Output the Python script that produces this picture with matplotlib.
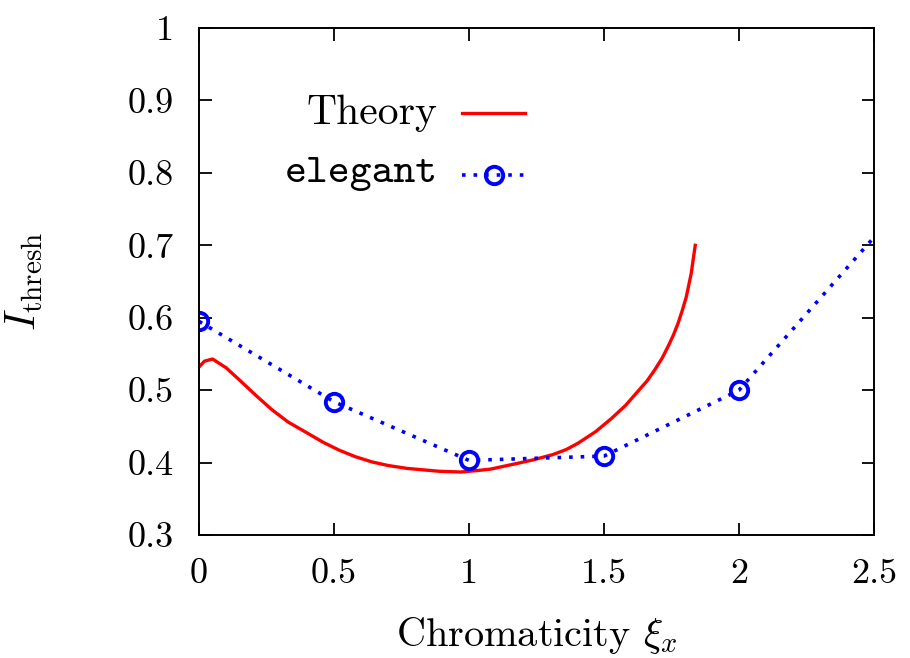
import numpy as np
import matplotlib.pyplot as plt
from matplotlib.lines import Line2D

plt.rcParams['font.family'] = 'cmr10'
plt.rcParams['mathtext.fontset'] = 'cm'
plt.rcParams['axes.formatter.use_mathtext'] = True

# theory curve
theory_x = [0.00, 0.02, 0.05, 0.10, 0.15, 0.21, 0.27, 0.33, 0.40, 0.46, 0.52, 0.58,
            0.64, 0.70, 0.77, 0.83, 0.89, 0.97, 1.03, 1.08, 1.13, 1.18, 1.24, 1.31,
            1.36, 1.405, 1.47, 1.528, 1.58, 1.62, 1.66, 1.688, 1.715, 1.737, 1.757,
            1.774, 1.79, 1.805, 1.823, 1.838]
theory_y = [0.532, 0.540, 0.543, 0.531, 0.514, 0.493, 0.473, 0.456, 0.441, 0.428, 0.417, 0.408,
            0.401, 0.396, 0.392, 0.390, 0.388, 0.387, 0.389, 0.391, 0.395, 0.399, 0.404, 0.411,
            0.418, 0.427, 0.443, 0.461, 0.479, 0.496, 0.513, 0.528, 0.544, 0.560, 0.576,
            0.592, 0.610, 0.629, 0.661, 0.700]

# elegant simulation points
eleg_x = [0.0, 0.5, 1.0, 1.5, 2.0, 3.0]
eleg_y = [0.595, 0.484, 0.403, 0.409, 0.500, 0.922]

xticks = [0, 0.5, 1, 1.5, 2, 2.5]
xticklabels = ['0', '0.5', '1', '1.5', '2', '2.5']
yticks = [0.3, 0.4, 0.5, 0.6, 0.7, 0.8, 0.9, 1.0]
yticklabels = ['0.3', '0.4', '0.5', '0.6', '0.7', '0.8', '0.9', '1']

fig = plt.figure(figsize=(9.1, 6.58), dpi=100)
ax = fig.add_axes([0.2187, 0.1869, 0.7417, 0.7705])

red = '#ff0000'
blue = '#0000ff'
ax.plot(theory_x, theory_y, color=red, lw=2.4, solid_joinstyle='round')
ax.plot(eleg_x, eleg_y, color=blue, lw=2.6, linestyle=(0, (1, 2.2)),
        marker='o', ms=12.5, mfc='none', mec=blue, mew=2.8)

ax.set_xlim(0, 2.5)
ax.set_ylim(0.3, 1.0)
ax.set_xticks(xticks)
ax.set_xticklabels(xticklabels)
ax.set_yticks(yticks)
ax.set_yticklabels(yticklabels)
ax.tick_params(direction='in', top=True, right=True, length=9, width=1.3,
               labelsize=26)
ax.tick_params(axis='x', pad=17)
ax.tick_params(axis='y', pad=18)
for s in ax.spines.values():
    s.set_linewidth(1.4)

ax.set_xlabel(r'Chromaticity $\xi_x$', fontsize=29, va='top')
ax.xaxis.set_label_coords(0.5, -0.158)
ax.set_ylabel(r'$I_{\mathrm{thresh}}$', fontsize=30)
ax.yaxis.set_label_coords(-0.228, 0.5)

# gnuplot-style key: text right-aligned, sample on the right
ax.text(0.353, 0.832, 'Theory', transform=ax.transAxes, ha='right', va='center', fontsize=30)
ax.add_line(Line2D([0.39, 0.483], [0.832, 0.832], transform=ax.transAxes, color=red, lw=2.4))
ax.text(0.353, 0.712, 'elegant', transform=ax.transAxes, ha='right', va='center',
        fontsize=30, family='cmtt10')
ax.add_line(Line2D([0.39, 0.483], [0.710, 0.710], transform=ax.transAxes, color=blue,
                   lw=2.6, linestyle=(0, (1, 2.2))))
ax.add_line(Line2D([0.4365], [0.710], transform=ax.transAxes, marker='o', ms=12.5,
                   mfc='none', mec=blue, mew=2.8, linestyle='none'))

fig.savefig('out.png', dpi=100)
